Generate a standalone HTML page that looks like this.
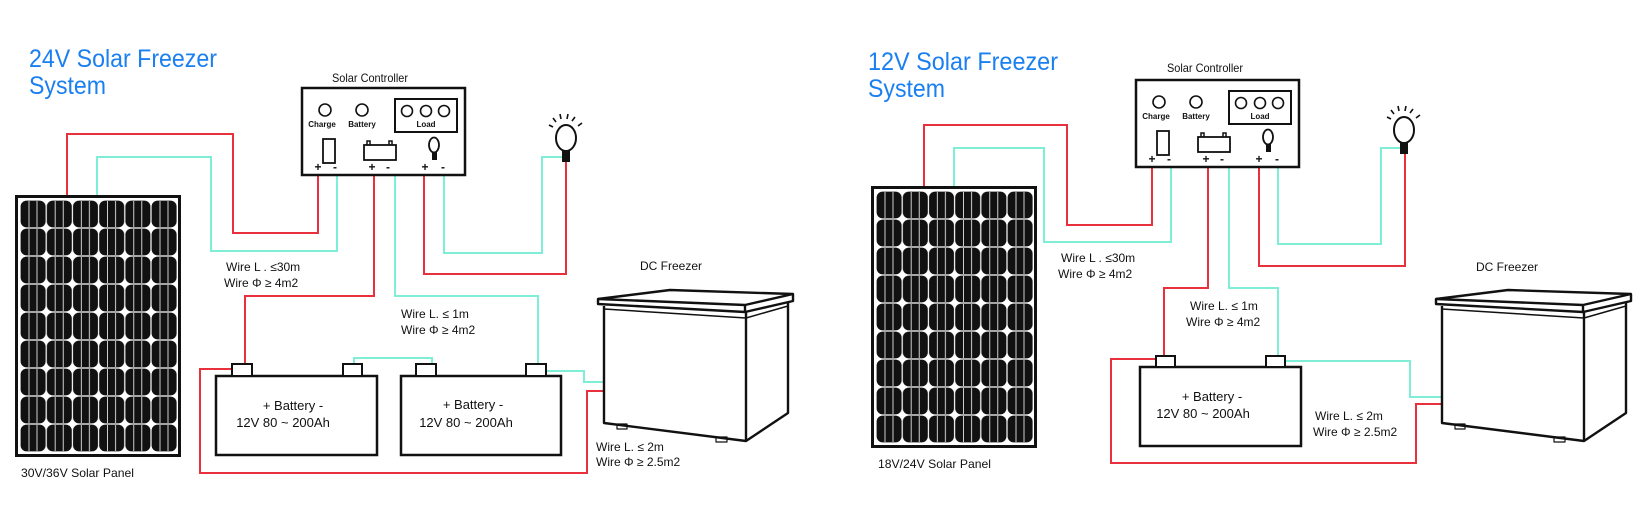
<!DOCTYPE html>
<html><head><meta charset="utf-8"><style>
html,body{margin:0;padding:0;background:#fff;}
svg{display:block;}
text{font-family:"Liberation Sans",sans-serif;fill:#111;}
</style></head><body>
<svg width="1651" height="511" viewBox="0 0 1651 511" xmlns="http://www.w3.org/2000/svg">
<defs>
<pattern id="cell" x="20" y="200" width="26.2" height="28" patternUnits="userSpaceOnUse">
  <rect x="0.6" y="0.6" width="25" height="26.8" rx="6" fill="#111"/>
  <line x1="9" y1="1" x2="9" y2="27" stroke="#fff" stroke-width="0.8"/>
  <line x1="17" y1="1" x2="17" y2="27" stroke="#fff" stroke-width="0.8"/>
</pattern>
<g id="panel">
  <rect x="16.5" y="196.5" width="163" height="259" fill="#fff" stroke="#111" stroke-width="3"/>
  <rect x="20" y="200" width="157" height="252" fill="url(#cell)"/>
</g>
<g id="ctrl">
  <rect x="0" y="0" width="163" height="87" fill="#fff" stroke="#111" stroke-width="2.5"/>
  <circle cx="23" cy="22" r="6" fill="none" stroke="#111" stroke-width="1.6"/>
  <circle cx="60" cy="22" r="6" fill="none" stroke="#111" stroke-width="1.6"/>
  <text x="20" y="39" font-size="8" text-anchor="middle" font-weight="bold">Charge</text>
  <text x="60" y="39" font-size="8" text-anchor="middle" font-weight="bold">Battery</text>
  <rect x="93" y="11" width="62" height="33" fill="none" stroke="#111" stroke-width="2"/>
  <circle cx="105" cy="23" r="5.5" fill="none" stroke="#111" stroke-width="1.6"/>
  <circle cx="124" cy="23" r="5.5" fill="none" stroke="#111" stroke-width="1.6"/>
  <circle cx="142" cy="23" r="5.5" fill="none" stroke="#111" stroke-width="1.6"/>
  <text x="124" y="39" font-size="8" text-anchor="middle" font-weight="bold">Load</text>
  <rect x="21" y="51" width="12" height="24" fill="none" stroke="#111" stroke-width="1.8"/>
  <rect x="62" y="57" width="32" height="15" fill="none" stroke="#111" stroke-width="1.8"/>
  <path d="M65 57 v-4 h3 v4 M87 57 v-4 h3 v4" fill="none" stroke="#111" stroke-width="1.5"/>
  <ellipse cx="132" cy="57" rx="5" ry="7.5" fill="none" stroke="#111" stroke-width="1.8"/>
  <rect x="130" y="64" width="5" height="8" fill="#111"/>
  <text x="16" y="83" font-size="12" text-anchor="middle" font-weight="bold">+</text>
  <text x="33" y="83" font-size="12" text-anchor="middle" font-weight="bold">-</text>
  <text x="70" y="83" font-size="12" text-anchor="middle" font-weight="bold">+</text>
  <text x="86" y="83" font-size="12" text-anchor="middle" font-weight="bold">-</text>
  <text x="123" y="83" font-size="12" text-anchor="middle" font-weight="bold">+</text>
  <text x="141" y="83" font-size="12" text-anchor="middle" font-weight="bold">-</text>
</g>
<g id="bulb">
  <ellipse cx="0" cy="0" rx="10" ry="13" fill="#fff" stroke="#111" stroke-width="2"/>
  <rect x="-4" y="12" width="8" height="12" fill="#111"/>
  <path d="M-17 -13 l4 2 M-13 -20 l3 4 M-6 -24 l1 5 M2 -24 l-1 5 M9 -21 l-3 4 M16 -15 l-4 3" stroke="#111" stroke-width="1.6"/>
</g>
<g id="freezer" fill="none" stroke="#111" stroke-width="2.4" stroke-linejoin="round">
  <polygon points="598,299 670,290 793,294 793,301 745,312 598,304" fill="#fff"/>
  <polyline points="598,299 745,305 793,294"/>
  <line x1="745" y1="305" x2="745" y2="312"/>
  <polyline points="604,306 604,423 746,441 788,413 788,303"/>
  <line x1="746" y1="312" x2="746" y2="441"/>
  <polyline points="604,309 746,318 788,306" stroke-width="1.5"/>
  <rect x="617" y="424" width="10" height="5" stroke-width="1.2"/>
  <rect x="716" y="437" width="11" height="5" stroke-width="1.2"/>
</g>
</defs>

<!-- LEFT -->
<text x="29" y="67" font-size="25" fill="#1a7ff0" style="fill:#1a7ff0" textLength="188" lengthAdjust="spacingAndGlyphs">24V Solar Freezer</text>
<text x="29" y="94" font-size="25" style="fill:#1a7ff0" textLength="77" lengthAdjust="spacingAndGlyphs">System</text>
<text x="370" y="82" font-size="12" text-anchor="middle" textLength="76" lengthAdjust="spacingAndGlyphs">Solar Controller</text>

<g fill="none" stroke-width="2">
<polyline stroke="#e8313c" points="318,175 318,233 233,233 233,134 67,134 67,196"/>
<polyline stroke="#7feed6" points="337,175 337,251 211,251 211,157 97,157 97,196"/>
<polyline stroke="#e8313c" points="374,175 374,296 245,296 245,364"/>
<polyline stroke="#7feed6" points="395,175 395,296 538,296 538,364"/>
<polyline stroke="#e8313c" points="424,175 424,274 566,274 566,160"/>
<polyline stroke="#7feed6" points="444,175 444,253 542,253 542,157 562,157"/>
<polyline stroke="#7feed6" points="354,364 354,358 432,358 432,364"/>
<polyline stroke="#7feed6" points="546,371 584,371 584,382 605,382"/>
<polyline stroke="#e8313c" points="232,369 200,369 200,473 587,473 587,391 605,391"/>
</g>

<use href="#panel"/>
<text x="21" y="477" font-size="12" textLength="113" lengthAdjust="spacingAndGlyphs">30V/36V Solar Panel</text>
<use href="#ctrl" x="302" y="88"/>
<use href="#bulb" x="566" y="138"/>

<rect x="216" y="376" width="161" height="79" fill="#fff" stroke="#111" stroke-width="2.5"/>
<rect x="232" y="364" width="20" height="12" fill="#fff" stroke="#111" stroke-width="2"/>
<rect x="343" y="364" width="19" height="12" fill="#fff" stroke="#111" stroke-width="2"/>
<rect x="401" y="376" width="160" height="79" fill="#fff" stroke="#111" stroke-width="2.5"/>
<rect x="416" y="364" width="20" height="12" fill="#fff" stroke="#111" stroke-width="2"/>
<rect x="526" y="364" width="20" height="12" fill="#fff" stroke="#111" stroke-width="2"/>
<text x="293" y="410" font-size="13" text-anchor="middle">+  Battery  -</text>
<text x="283" y="427" font-size="13" text-anchor="middle">12V 80 ~ 200Ah</text>
<text x="473" y="409" font-size="13" text-anchor="middle">+  Battery  -</text>
<text x="466" y="427" font-size="13" text-anchor="middle">12V 80  ~ 200Ah</text>

<text x="226" y="271" font-size="12">Wire L . ≤30m</text>
<text x="224" y="287" font-size="12">Wire  Φ  ≥ 4m2</text>
<text x="401" y="318" font-size="12">Wire L.  ≤ 1m</text>
<text x="401" y="334" font-size="12">Wire  Φ  ≥ 4m2</text>
<text x="640" y="270" font-size="12">DC Freezer</text>
<text x="596" y="451" font-size="12">Wire L.  ≤ 2m</text>
<text x="596" y="466" font-size="12">Wire  Φ  ≥ 2.5m2</text>
<use href="#freezer"/>

<!-- RIGHT -->
<text x="868" y="70" font-size="25" style="fill:#1a7ff0" textLength="190" lengthAdjust="spacingAndGlyphs">12V Solar Freezer</text>
<text x="868" y="97" font-size="25" style="fill:#1a7ff0" textLength="77" lengthAdjust="spacingAndGlyphs">System</text>
<text x="1205" y="72" font-size="12" text-anchor="middle" textLength="76" lengthAdjust="spacingAndGlyphs">Solar Controller</text>

<g fill="none" stroke-width="2">
<polyline stroke="#e8313c" points="1152,167 1152,225 1067,225 1067,125 924,125 924,187"/>
<polyline stroke="#7feed6" points="1171,167 1171,242 1044,242 1044,148 954,148 954,187"/>
<polyline stroke="#e8313c" points="1208,167 1208,288 1164,288 1164,356"/>
<polyline stroke="#7feed6" points="1229,167 1229,288 1278,288 1278,356"/>
<polyline stroke="#e8313c" points="1259,167 1259,266 1405,266 1405,152"/>
<polyline stroke="#7feed6" points="1278,167 1278,244 1381,244 1381,148 1400,148"/>
<polyline stroke="#7feed6" points="1285,361 1410,361 1410,397 1442,397"/>
<polyline stroke="#e8313c" points="1156,359 1111,359 1111,463 1416,463 1416,404 1442,404"/>
</g>

<use href="#panel" x="856" y="-9"/>
<text x="878" y="468" font-size="12" textLength="113" lengthAdjust="spacingAndGlyphs">18V/24V Solar Panel</text>
<use href="#ctrl" x="1136" y="80"/>
<use href="#bulb" x="1404" y="130"/>

<rect x="1140" y="367" width="161" height="79" fill="#fff" stroke="#111" stroke-width="2.5"/>
<rect x="1156" y="356" width="19" height="11" fill="#fff" stroke="#111" stroke-width="2"/>
<rect x="1266" y="356" width="19" height="11" fill="#fff" stroke="#111" stroke-width="2"/>
<text x="1212" y="401" font-size="13" text-anchor="middle">+  Battery  -</text>
<text x="1203" y="418" font-size="13" text-anchor="middle">12V 80 ~ 200Ah</text>

<text x="1061" y="262" font-size="12">Wire L . ≤30m</text>
<text x="1058" y="278" font-size="12">Wire  Φ  ≥ 4m2</text>
<text x="1190" y="310" font-size="12">Wire L.  ≤ 1m</text>
<text x="1186" y="326" font-size="12">Wire  Φ  ≥ 4m2</text>
<text x="1476" y="271" font-size="12">DC Freezer</text>
<text x="1315" y="420" font-size="12">Wire L.  ≤ 2m</text>
<text x="1313" y="436" font-size="12">Wire  Φ  ≥ 2.5m2</text>
<use href="#freezer" x="838" y="0"/>
</svg>
</body></html>
